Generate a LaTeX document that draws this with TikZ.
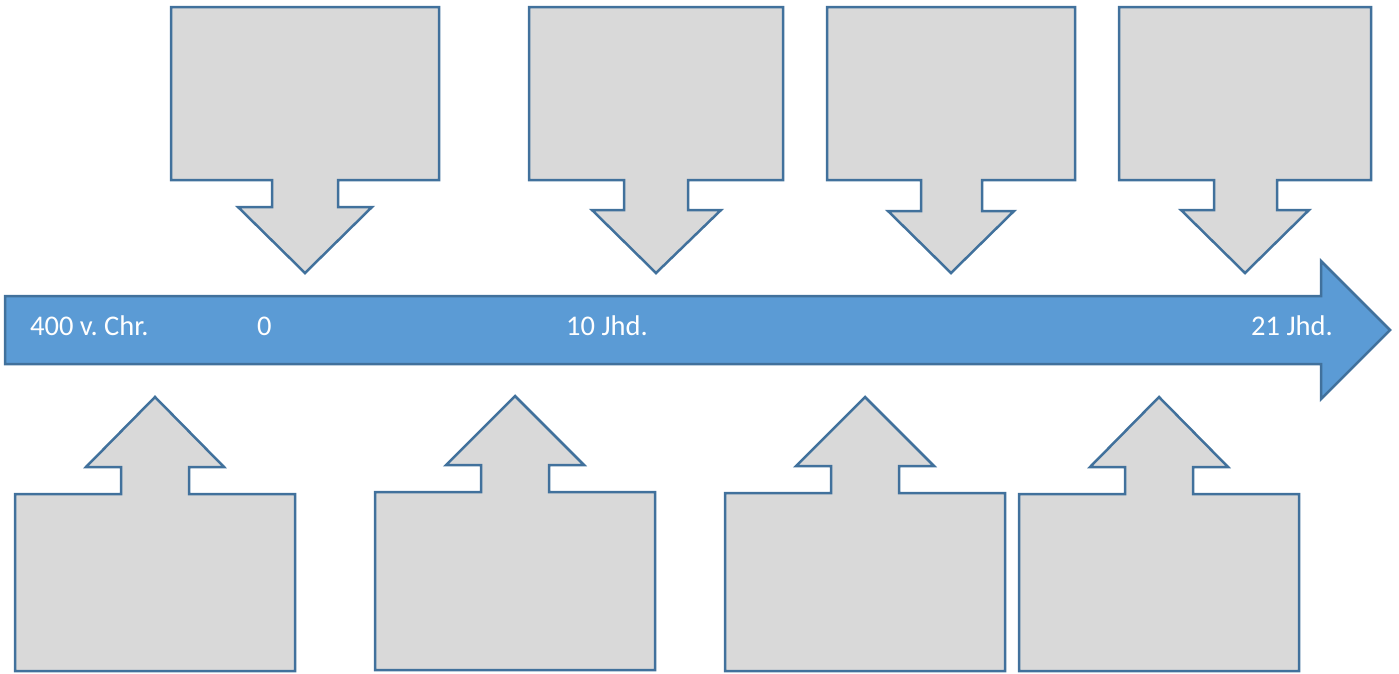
\documentclass[tikz,border=0pt]{standalone}
\usepackage{fontspec}
\setmainfont{Carlito}
\definecolor{boxgray}{HTML}{D9D9D9}
\definecolor{edgeblue}{HTML}{41719C}
\definecolor{arrowblue}{HTML}{5B9BD5}
\begin{document}
\begin{tikzpicture}[x=1pt, y=-1pt, line join=miter,
    callout/.style={fill=boxgray, draw=edgeblue, line width=2.5pt},
    timeline/.style={fill=arrowblue, draw=edgeblue, line width=2.5pt},
    yearlabel/.style={text=white, font=\fontsize{28.5}{32}\selectfont, anchor=base west, inner sep=0pt}]
            \useasboundingbox (0, 0) rectangle (1399, 673);
            % time arrow
            \draw[timeline] (5, 296) -- (1321, 296) -- (1321, 261) -- (1390, 330) -- (1321, 399) -- (1321, 364) -- (5, 364) -- cycle;
            \node[yearlabel] (bc400) at (30, 335) {400 v.\ Chr.};
            \node[yearlabel] (zero) at (257, 335) {0};
            \node[yearlabel] (jhd10) at (566, 335) {10 Jhd.};
            \node[yearlabel] (jhd21) at (1251, 335) {21 Jhd.};
            % callouts above
            \draw[callout] (171, 7) -- (439, 7) -- (439, 180) -- (338, 180) -- (338, 207) -- (372, 207) -- (305, 273) -- (238, 207) -- (272, 207) -- (272, 180) -- (171, 180) -- cycle;
            \draw[callout] (529, 7) -- (783, 7) -- (783, 180) -- (688, 180) -- (688, 210) -- (721, 210) -- (656, 273) -- (592, 210) -- (624, 210) -- (624, 180) -- (529, 180) -- cycle;
            \draw[callout] (827, 7) -- (1075, 7) -- (1075, 180) -- (982, 180) -- (982, 211) -- (1014, 211) -- (951, 273) -- (888, 211) -- (921, 211) -- (921, 180) -- (827, 180) -- cycle;
            \draw[callout] (1119, 7) -- (1371, 7) -- (1371, 180) -- (1277, 180) -- (1277, 210) -- (1309, 210) -- (1245, 273) -- (1181, 210) -- (1214, 210) -- (1214, 180) -- (1119, 180) -- cycle;
            % callouts below
            \draw[callout] (15, 671) -- (295, 671) -- (295, 494) -- (189, 494) -- (189, 467) -- (224, 467) -- (155, 397) -- (86, 467) -- (121, 467) -- (121, 494) -- (15, 494) -- cycle;
            \draw[callout] (375, 670) -- (655, 670) -- (655, 492) -- (549, 492) -- (549, 465) -- (584, 465) -- (515, 396) -- (446, 465) -- (481, 465) -- (481, 492) -- (375, 492) -- cycle;
            \draw[callout] (725, 671) -- (1005, 671) -- (1005, 493) -- (899, 493) -- (899, 466) -- (934, 466) -- (865, 397) -- (796, 466) -- (831, 466) -- (831, 493) -- (725, 493) -- cycle;
            \draw[callout] (1019, 671) -- (1299, 671) -- (1299, 494) -- (1193, 494) -- (1193, 467) -- (1228, 467) -- (1159, 397) -- (1090, 467) -- (1125, 467) -- (1125, 494) -- (1019, 494) -- cycle;
        \end{tikzpicture}
\end{document}
